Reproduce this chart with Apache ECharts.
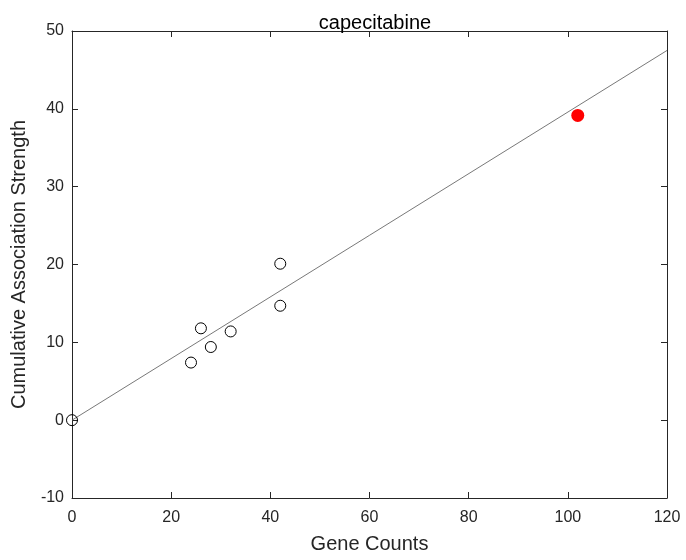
<!DOCTYPE html>
<html><head><meta charset="utf-8">
<script src="https://cdn.jsdelivr.net/npm/echarts@6/dist/echarts.min.js"></script>
<style>html,body{margin:0;padding:0;background:#fff}#c{width:686px;height:560px}</style>
</head><body><div id="c"></div>
<script>
const geneCounts = [0, 24, 26, 28, 32, 42, 42];
const strengths = [0, 7.4, 11.8, 9.4, 11.4, 20.1, 14.7];
const highlightX = [102];
const highlightY = [39.15];
const fitX = [0, 120];
const fitY = [0, 47.5];
const xTicks = [0, 20, 40, 60, 80, 100, 120];
const yTicks = [-10, 0, 10, 20, 30, 40, 50];

const font = 'Liberation Sans, Arial, sans-serif';
const axisCommon = {
  axisLine: {show: true, onZero: false, lineStyle: {color: '#262626', width: 1}},
  axisTick: {show: true, inside: true, length: 6, lineStyle: {color: '#262626'}},
  splitLine: {show: false}
};
const chart = echarts.init(document.getElementById('c'), null, {renderer: 'canvas'});
chart.setOption({
  animation: false,
  backgroundColor: '#fff',
  title: {text: 'capecitabine', left: 370, top: 8, textAlign: 'center',
    textStyle: {fontFamily: font, fontSize: 20, fontWeight: 'normal', color: '#000'}},
  grid: {left: 72, right: 19, top: 31, bottom: 62, containLabel: false},
  xAxis: [
    Object.assign({type: 'value', min: xTicks[0], max: xTicks[xTicks.length-1], interval: 20,
      name: 'Gene Counts', nameLocation: 'middle', nameGap: 36,
      nameTextStyle: {fontFamily: font, fontSize: 20, color: '#262626'},
      axisLabel: {fontFamily: font, fontSize: 16, color: '#262626', margin: 12}}, axisCommon),
    Object.assign({type: 'value', position: 'top', min: xTicks[0], max: xTicks[xTicks.length-1], interval: 20,
      axisLabel: {show: false}}, axisCommon)
  ],
  yAxis: [
    Object.assign({type: 'value', min: yTicks[0], max: yTicks[yTicks.length-1], interval: 10,
      name: 'Cumulative Association Strength', nameLocation: 'middle', nameGap: 39,
      nameTextStyle: {fontFamily: font, fontSize: 20, color: '#262626'},
      axisLabel: {fontFamily: font, fontSize: 16, color: '#262626', margin: 8}}, axisCommon),
    Object.assign({type: 'value', position: 'right', min: yTicks[0], max: yTicks[yTicks.length-1], interval: 10,
      axisLabel: {show: false}}, axisCommon)
  ],
  series: [
    {type: 'line', data: fitX.map((x, i) => [x, fitY[i]]), symbol: 'none',
      lineStyle: {color: '#555', width: 0.8}, z: 2},
    {type: 'scatter', data: geneCounts.map((x, i) => [x, strengths[i]]), symbol: 'circle', symbolSize: 11,
      itemStyle: {color: 'rgba(0,0,0,0)', borderColor: '#000', borderWidth: 1, opacity: 1}, z: 3},
    {type: 'scatter', data: highlightX.map((x, i) => [x, highlightY[i]]), symbol: 'circle', symbolSize: 13,
      itemStyle: {color: '#ff0000', opacity: 1}, z: 4}
  ]
});
</script></body></html>
